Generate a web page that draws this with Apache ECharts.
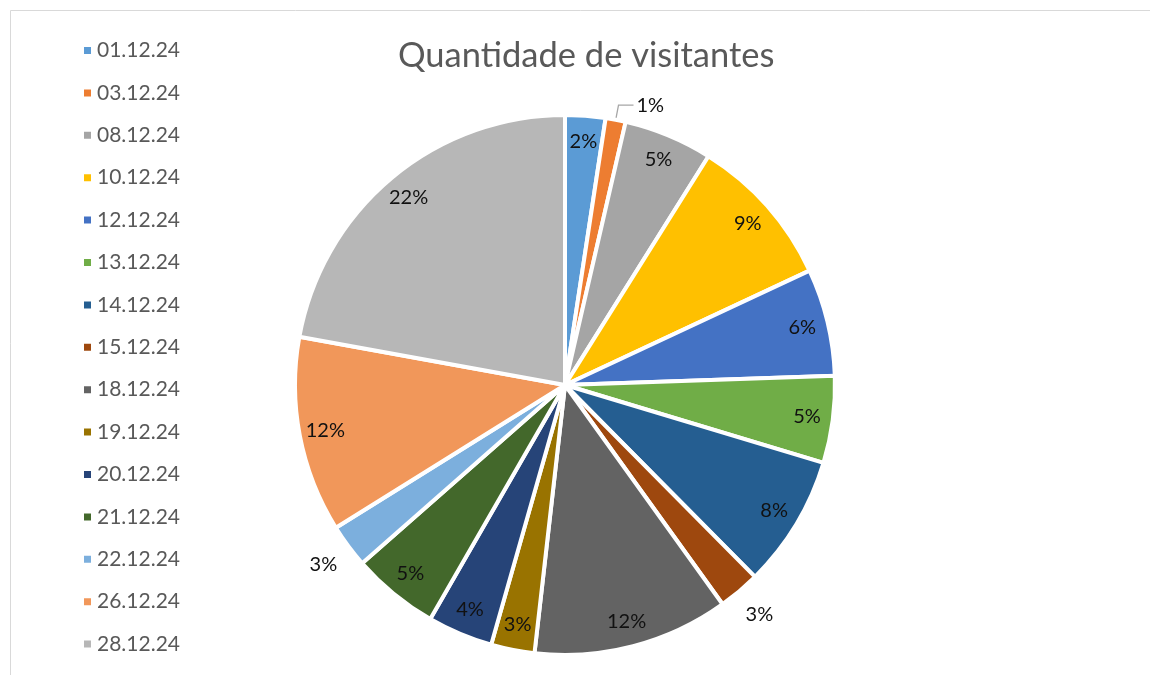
<!DOCTYPE html>
<html>
<head>
<meta charset="utf-8">
<script src="https://cdn.jsdelivr.net/npm/echarts@6/dist/echarts.min.js"></script>
<style>
html,body{margin:0;padding:0;background:#fff;}
#chart{width:1150px;height:675px;}
</style>
</head>
<body>
<div id="chart"></div>
<script>
const titleText = 'Quantidade de visitantes';
const categories = ['01.12.24','03.12.24','08.12.24','10.12.24','12.12.24','13.12.24','14.12.24','15.12.24','18.12.24','19.12.24','20.12.24','21.12.24','22.12.24','26.12.24','28.12.24'];
const visitors = [24,12,53,91,64,52,79,25,117,26,39,52,26,117,221];

const colors = ['#5B9BD5','#ED7D31','#A5A5A5','#FFC000','#4472C4','#70AD47','#255E91','#9E480E','#636363','#997300','#264478','#43682B','#7CAFDD','#F1975A','#B7B7B7'];
const leaderLabelNames = ['03.12.24'];
const outerLabelNames = ['15.12.24','22.12.24'];

const FONT = 'Lato';
const CX = 565, CY = 385, R = 270;
const pct = p => Math.round(p.percent) + '%';
const labelStyle = {fontFamily: FONT, fontSize: 20, color: '#111', textBorderWidth: 0};

const baseData = categories.map((c, i) => ({
  name: c, value: visitors[i], itemStyle: {color: colors[i]},
  label: leaderLabelNames.includes(c)
    ? {show: true, position: 'outside', formatter: pct, ...labelStyle, padding: [0, 0, 14, 0], distanceToLabelLine: 3}
    : {show: false},
  labelLine: leaderLabelNames.includes(c)
    ? {show: true, length: 15, length2: 15, lineStyle: {color: '#A6A6A6', width: 1.3}}
    : {show: false}
}));

const innerLabelData = categories.map((c, i) => ({
  name: c, value: visitors[i],
  label: {show: !leaderLabelNames.includes(c) && !outerLabelNames.includes(c)}
}));
const outerLabelData = categories.map((c, i) => ({
  name: c, value: visitors[i],
  label: {show: outerLabelNames.includes(c)}
}));

const transparent = {color: 'rgba(0,0,0,0)', borderWidth: 0};

const chart = echarts.init(document.getElementById('chart'), null, {renderer: 'canvas'});
chart.setOption({
  animation: false,
  backgroundColor: '#fff',
  title: {
    text: titleText, left: 393, top: 33,
    padding: 5,
    textStyle: {fontFamily: FONT, fontSize: 34.5, fontWeight: 'normal', color: '#595959'}
  },
  legend: {
    orient: 'vertical', left: 77, top: 35,
    icon: 'rect', itemWidth: 9, itemHeight: 9, itemGap: 21.4,
    selectedMode: false,
    textStyle: {fontFamily: FONT, fontSize: 21, lineHeight: 20, color: '#595959'},
    data: categories.map((c, i) => ({name: c, itemStyle: {color: colors[i]}}))
  },
  graphic: [{
    type: 'rect', silent: true,
    shape: {x: 10.5, y: 10.5, width: 1200, height: 720},
    style: {fill: 'none', stroke: '#D9D9D9', lineWidth: 1}
  }],
  series: [
    {
      type: 'pie', center: [CX, CY], radius: [0, R], startAngle: 90, clockwise: true,
      avoidLabelOverlap: false, silent: true,
      itemStyle: {borderColor: '#fff', borderWidth: 4},
      data: baseData
    },
    {
      type: 'pie', center: [CX, CY], radius: [214, 268], startAngle: 90, clockwise: true,
      avoidLabelOverlap: false, silent: true,
      itemStyle: transparent,
      label: {position: 'inside', formatter: pct, ...labelStyle},
      labelLine: {show: false},
      data: innerLabelData
    },
    {
      type: 'pie', center: [CX, CY], radius: [268, 328], startAngle: 90, clockwise: true,
      avoidLabelOverlap: false, silent: true,
      itemStyle: transparent,
      label: {position: 'inside', formatter: pct, ...labelStyle},
      labelLine: {show: false},
      data: outerLabelData
    }
  ]
});
</script>
</body>
</html>
